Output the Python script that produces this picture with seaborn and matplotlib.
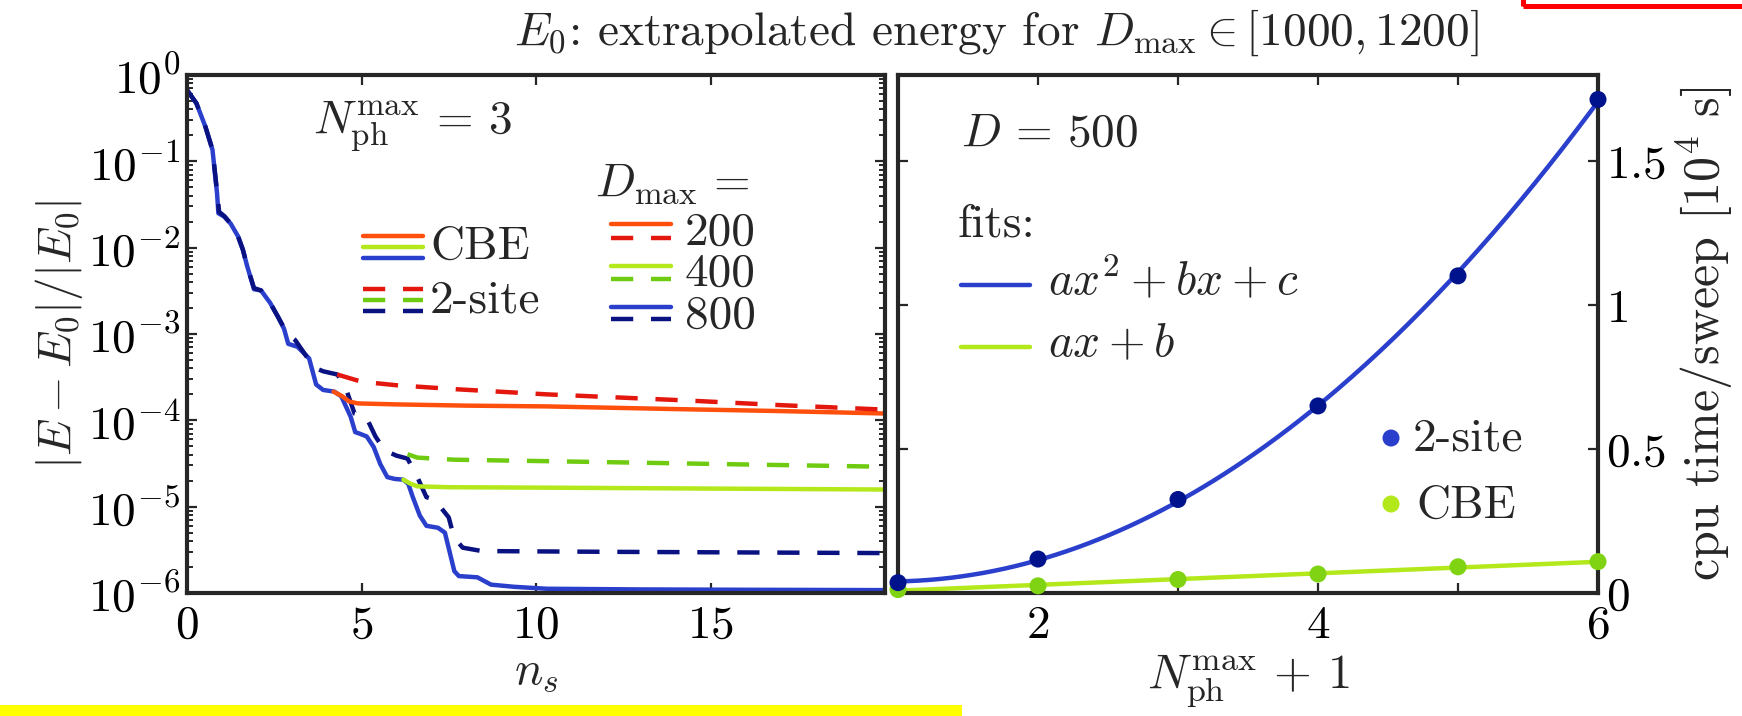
import numpy as np
import matplotlib
matplotlib.use("Agg")
import matplotlib.pyplot as plt
import seaborn as sns
from matplotlib.lines import Line2D
from matplotlib.patches import Rectangle
from matplotlib.ticker import FixedLocator, FuncFormatter, LogLocator, NullFormatter

# ---------------- data (left panel) ----------------
ns_cbe800 = [0, 0.27, 0.53, 0.73, 0.86, 0.9, 1.06, 1.25, 1.46, 1.6, 1.72, 1.92, 2.12, 2.38, 2.6, 2.78, 2.9,
             3.17, 3.5, 3.7, 3.9, 4.22, 4.42, 4.69, 4.82, 4.95, 5.15, 5.35, 5.54, 5.74, 5.94, 6.2, 6.34,
             6.47, 6.67, 6.86, 7.19, 7.39, 7.66, 7.79, 8.32, 8.71, 9.37, 10.3, 13, 16, 20]
err_cbe800 = [0.67, 0.47, 0.25, 0.136, 0.043, 0.025, 0.023, 0.019, 0.0136, 0.0095, 0.0062, 0.0033, 0.0032,
              0.0023, 0.0016, 0.00115, 7.7e-4, 7.1e-4, 5.2e-4, 2.6e-4, 2.25e-4, 2.15e-4, 1.9e-4, 1.1e-4,
              7.3e-5, 7.0e-5, 6.5e-5, 4.9e-5, 3.1e-5, 2.2e-5, 2.1e-5, 2.05e-5, 1.84e-5, 1.29e-5, 7.9e-6,
              6.0e-6, 5.7e-6, 5.0e-6, 1.79e-6, 1.57e-6, 1.52e-6, 1.25e-6, 1.18e-6, 1.12e-6, 1.1e-6,
              1.09e-6, 1.08e-6]

ns_2s800 = [0, 0.27, 0.53, 0.73, 0.86, 0.92, 1.08, 1.25, 1.46, 1.6, 1.72, 1.92, 2.12, 2.38, 2.6, 2.78, 2.95,
            3.1, 3.3, 3.57, 3.7, 3.9, 4.3, 4.5, 4.65, 4.8, 5.13, 5.4, 5.66, 6.0, 6.32, 6.6, 6.86, 7.1,
            7.5, 7.65, 7.9, 8.45, 12, 20]
err_2s800 = [0.67, 0.47, 0.25, 0.136, 0.045, 0.026, 0.023, 0.019, 0.0136, 0.0095, 0.0062, 0.0034, 0.0032,
             0.0023, 0.0016, 0.00118, 9.5e-4, 8.5e-4, 6.5e-4, 4.5e-4, 4.0e-4, 3.7e-4, 3.4e-4, 2.7e-4,
             1.8e-4, 1.2e-4, 1.1e-4, 6.5e-5, 4.5e-5, 3.9e-5, 3.6e-5, 2.2e-5, 1.29e-5, 1.2e-5, 7.5e-6,
             4.4e-6, 3.35e-6, 3.06e-6, 3.0e-6, 2.9e-6]

ns_cbe200 = [4.2, 4.45, 4.65, 4.9, 6, 8, 10.3, 14, 17, 20]
err_cbe200 = [2.15e-4, 1.9e-4, 1.65e-4, 1.57e-4, 1.53e-4, 1.48e-4, 1.45e-4, 1.35e-4, 1.28e-4, 1.2e-4]

ns_2s200 = [4.3, 5, 6, 7.65, 10.3, 14.3, 17, 20]
err_2s200 = [3.4e-4, 2.8e-4, 2.55e-4, 2.3e-4, 2.0e-4, 1.7e-4, 1.5e-4, 1.33e-4]

ns_cbe400 = [6.2, 6.4, 6.6, 7.5, 10.3, 15, 20]
err_cbe400 = [2.05e-5, 1.85e-5, 1.72e-5, 1.68e-5, 1.66e-5, 1.62e-5, 1.58e-5]

ns_2s400 = [6.32, 6.6, 7.65, 11.6, 15.6, 20]
err_2s400 = [4.05e-5, 3.7e-5, 3.5e-5, 3.3e-5, 3.1e-5, 2.9e-5]

# ---------------- data (right panel) ----------------
nph_plus1 = [1, 2, 3, 4, 5, 6]
cpu_2site = [0.036, 0.118, 0.325, 0.650, 1.102, 1.715]
cpu_cbe = [0.012, 0.025, 0.047, 0.066, 0.091, 0.109]

left_xticks = [0, 5, 10, 15]
right_xticks = [1, 2, 3, 4, 5, 6]
right_xticklabels = ["", "2", "", "4", "", "6"]
right_yticks = [0, 0.5, 1, 1.5]

# ---------------- colours ----------------
c_blue = "#2a3fcc"
c_navy = "#0a1282"
c_orange = "#ff4f0c"
c_red = "#e3170e"
c_lime = "#b3e81a"
c_green = "#6ecb10"
c_dot_navy = "#00138c"
c_dot_green = "#80d312"
spine_c = "#262626"

sns.set_theme(style="ticks")
plt.rcParams.update({
    "font.family": ["cmr10", "DejaVu Sans"],
    "mathtext.fontset": "cm",
    "axes.unicode_minus": False,
    "axes.edgecolor": spine_c,
    "axes.linewidth": 3.0,
    "xtick.color": spine_c,
    "ytick.color": spine_c,
    "xtick.labelcolor": "black",
    "ytick.labelcolor": "black",
})

FS = 34
fig = plt.figure(figsize=(17.42, 7.16), dpi=100)
W, H = 1742.0, 716.0
ax1 = fig.add_axes([187 / W, 1 - 593 / H, 698 / W, 518 / H])
ax2 = fig.add_axes([898 / W, 1 - 593 / H, 700 / W, 518 / H])

LW = 3.2
DASH = (0, (5, 4))

# ---------------- left panel ----------------
sns.lineplot(x=ns_cbe800, y=err_cbe800, ax=ax1, color=c_blue, lw=LW, estimator=None, sort=False)
sns.lineplot(x=ns_2s800, y=err_2s800, ax=ax1, color=c_navy, lw=LW, estimator=None, sort=False, linestyle=DASH)
sns.lineplot(x=ns_cbe200, y=err_cbe200, ax=ax1, color=c_orange, lw=LW, estimator=None, sort=False)
sns.lineplot(x=ns_2s200, y=err_2s200, ax=ax1, color=c_red, lw=LW, estimator=None, sort=False, linestyle=DASH)
sns.lineplot(x=ns_cbe400, y=err_cbe400, ax=ax1, color=c_lime, lw=LW, estimator=None, sort=False)
sns.lineplot(x=ns_2s400, y=err_2s400, ax=ax1, color=c_green, lw=LW, estimator=None, sort=False, linestyle=DASH)

ax1.set_yscale("log")
ax1.set_ylim(1e-6, 1)
ax1.set_xlim(0, 20)
ax1.xaxis.set_major_locator(FixedLocator(left_xticks))
ax1.xaxis.set_major_formatter(FuncFormatter(lambda v, p: r"$%g$" % v))
ax1.yaxis.set_major_locator(LogLocator(base=10, numticks=20))
ax1.yaxis.set_minor_locator(LogLocator(base=10, subs=np.arange(2, 10), numticks=20))
ax1.yaxis.set_minor_formatter(NullFormatter())
ax1.yaxis.set_major_formatter(FuncFormatter(lambda v, p: r"$10^{%d}$" % int(round(np.log10(v)))))
ax1.tick_params(which="both", direction="in", top=True, right=True, labelsize=FS)
ax1.tick_params(which="major", length=7, width=1.6)
ax1.tick_params(which="minor", length=4, width=1.4)
ax1.tick_params(axis="x", pad=9)
ax1.tick_params(axis="y", pad=5)
ax1.set_xlabel(r"$n_s$", fontsize=FS, labelpad=4)
ax1.set_ylabel(r"$|E-E_0|/|E_0|$", fontsize=FS, labelpad=2)

# custom legend (left)
T1 = ax1.transAxes
ax1.text(0.1805, 0.8865, r"$N_{\rm ph}^{\max}\,=\,3$", transform=T1, fontsize=34, ha="left", va="baseline")
ax1.text(0.5845, 0.7658, r"$D_{\max}\,=$", transform=T1, fontsize=34, ha="left", va="baseline")
for c, yy in [(c_orange, 0.6901), (c_lime, 0.6683), (c_blue, 0.6473)]:
    ax1.add_line(Line2D([0.2521, 0.3381], [yy, yy], transform=T1, color=c, lw=LW))
for c, yy in [(c_red, 0.5869), (c_green, 0.5656), (c_navy, 0.5444)]:
    ax1.add_line(Line2D([0.2521, 0.3381], [yy, yy], transform=T1, color=c, lw=LW, linestyle=DASH))
ax1.text(0.3481, 0.6444, "CBE", transform=T1, fontsize=FS, ha="left", va="baseline")
ax1.text(0.3481, 0.5415, "2-site", transform=T1, fontsize=FS, ha="left", va="baseline")
for (cs, cd, ys, yd, lab, yb) in [(c_orange, c_red, 0.7114, 0.6853, "200", 0.673),
                                  (c_lime, c_green, 0.6313, 0.6062, "400", 0.5927),
                                  (c_blue, c_navy, 0.5512, 0.5290, "800", 0.5125)]:
    ax1.add_line(Line2D([0.6074, 0.6934], [ys, ys], transform=T1, color=cs, lw=LW))
    ax1.add_line(Line2D([0.6074, 0.6934], [yd, yd], transform=T1, color=cd, lw=LW, linestyle=DASH))
    ax1.text(0.7135, yb, lab, transform=T1, fontsize=FS, ha="left", va="baseline")

# ---------------- right panel ----------------
xfit = np.linspace(min(nph_plus1), max(nph_plus1), 200)
p2 = np.polyfit(nph_plus1, cpu_2site, 2)
p1 = np.polyfit(nph_plus1, cpu_cbe, 1)
sns.lineplot(x=xfit, y=np.polyval(p1, xfit), ax=ax2, color=c_lime, lw=LW, estimator=None, sort=False)
sns.lineplot(x=xfit, y=np.polyval(p2, xfit), ax=ax2, color=c_blue, lw=LW, estimator=None, sort=False)
sns.scatterplot(x=nph_plus1, y=cpu_cbe, ax=ax2, color=c_dot_green, s=150, edgecolor="none",
                zorder=5, clip_on=False)
sns.scatterplot(x=nph_plus1, y=cpu_2site, ax=ax2, color=c_dot_navy, s=150, edgecolor="none",
                zorder=6, clip_on=False)

ax2.set_xlim(1, 6)
ax2.set_ylim(0, 1.8)
ax2.set_xticks(right_xticks)
ax2.set_xticklabels([r"$%s$" % s if s else "" for s in right_xticklabels])
ax2.yaxis.set_major_locator(FixedLocator(right_yticks))
ax2.yaxis.set_major_formatter(FuncFormatter(lambda v, p: r"$%g$" % v))
ax2.tick_params(which="both", direction="in", top=True, right=True, left=True, bottom=True,
                labelleft=False, labelright=True, labelsize=FS)
ax2.tick_params(which="major", length=7, width=1.6)
ax2.tick_params(axis="x", pad=9)
ax2.tick_params(axis="y", pad=6)
ax2.yaxis.set_label_position("right")
ax2.set_ylabel(r"cpu time/sweep [$10^4$ s]", fontsize=36, labelpad=6)
ax2.set_xlabel(r"$N_{\rm ph}^{\max}\,+\,1$", fontsize=35, labelpad=4)

T2 = ax2.transAxes
ax2.text(0.09, 0.8631, r"$D\,=\,500$", transform=T2, fontsize=FS, ha="left", va="baseline")
ax2.text(0.0857, 0.6874, "fits:", transform=T2, fontsize=FS, ha="left", va="baseline")
ax2.add_line(Line2D([0.09, 0.1886], [0.5946, 0.5946], transform=T2, color=c_blue, lw=LW))
ax2.text(0.2143, 0.5765, r"$ax^2+bx+c$", transform=T2, fontsize=FS, ha="left", va="baseline")
ax2.add_line(Line2D([0.09, 0.1886], [0.4749, 0.4749], transform=T2, color=c_lime, lw=LW))
ax2.text(0.2143, 0.4564, r"$ax+b$", transform=T2, fontsize=FS, ha="left", va="baseline")
ax2.scatter([0.7043], [0.2992], transform=T2, s=150, color=c_blue, edgecolor="none")
ax2.text(0.7357, 0.2743, "2-site", transform=T2, fontsize=FS, ha="left", va="baseline")
ax2.scatter([0.7043], [0.1718], transform=T2, s=150, color=c_lime, edgecolor="none")
ax2.text(0.74, 0.146, "CBE", transform=T2, fontsize=FS, ha="left", va="baseline")

# ---------------- figure decorations ----------------
fig.text(996 / W, 1 - 45 / H, r"$E_0$: extrapolated energy for $D_{\max}\in[1000,1200]$",
         fontsize=FS, ha="center", va="baseline")
fig.patches.append(Rectangle((1523 / W, 1 - 5.8 / H), 0.5, 0.5, transform=fig.transFigure,
                             fill=False, edgecolor="#ff0000", lw=3.6, clip_on=False))
fig.patches.append(Rectangle((0, 0), 962 / W, 11 / H, transform=fig.transFigure,
                             facecolor="#ffff00", edgecolor="none"))

fig.savefig("out.png", dpi=100)
